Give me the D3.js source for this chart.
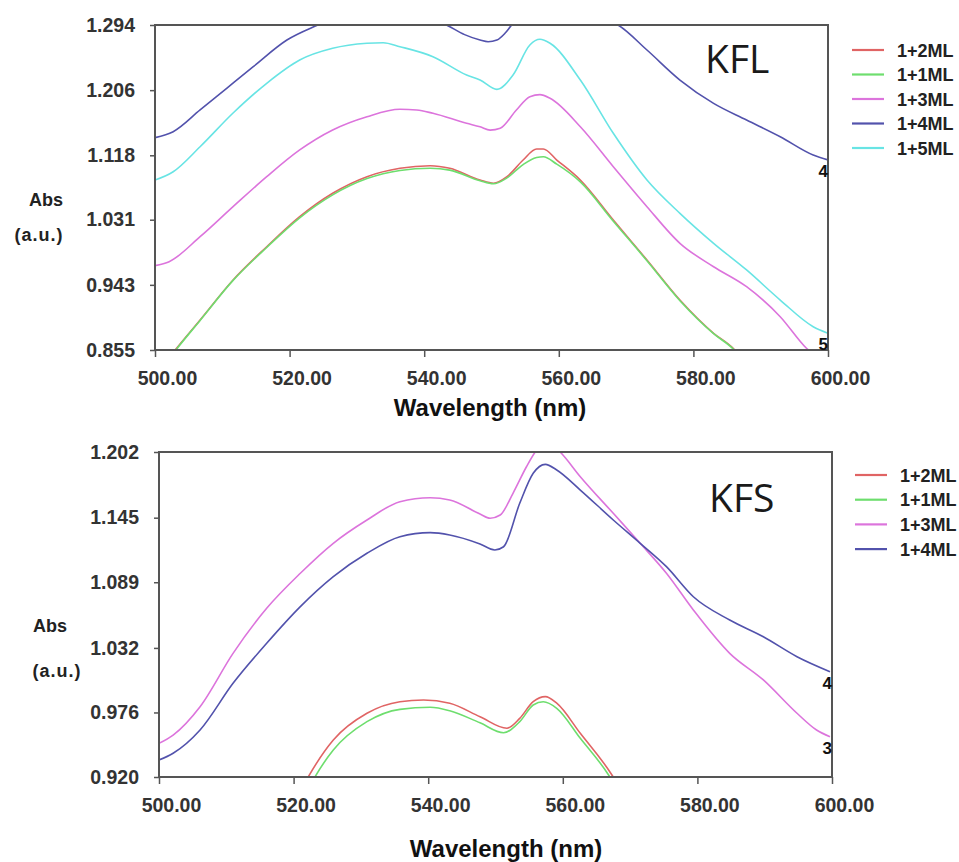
<!DOCTYPE html>
<html>
<head>
<meta charset="utf-8">
<script src="https://cdn.jsdelivr.net/npm/d3@7"></script>
<style>
  html, body { margin: 0; padding: 0; background: #fff; }
  svg { display: block; }
</style>
</head>
<body>
<svg id="chart" width="959" height="862"></svg>
<script>
// ---------------- DATA ----------------
const wavelengthTicks = [500, 520, 540, 560, 580, 600];
const kflTicks = [0.855, 0.943, 1.031, 1.118, 1.206, 1.294];
const kfsTicks = [0.920, 0.976, 1.032, 1.089, 1.145, 1.202];

const kflNames = ["1+2ML", "1+1ML", "1+3ML", "1+4ML", "1+5ML"];
const kfsNames = ["1+2ML", "1+1ML", "1+3ML", "1+4ML"];

// KFL panel: [wavelength nm, Abs]
const kfl_1p2ML = [[501.5,0.838],[503.0,0.855],[506.7,0.8955],[511.6,0.9496],[516.6,0.9945],[521.5,1.0351],[526.4,1.0667],[531.5,1.0891],[536.4,1.1004],[540.9,1.1039],[543.8,1.1004],[548.3,1.0846],[550.3,1.0802],[552.3,1.0891],[554.7,1.1116],[556.7,1.1265],[557.7,1.1265],[559.7,1.1116],[563.2,1.0846],[568.1,1.0306],[573.1,0.9766],[578.0,0.9225],[583.0,0.8776],[585.9,0.8573],[587.5,0.840]];
const kfl_1p1ML = [[501.5,0.836],[503.1,0.855],[506.7,0.895],[511.6,0.949],[516.6,0.9935],[521.5,1.0335],[526.4,1.0645],[531.5,1.0865],[536.4,1.0975],[540.9,1.1005],[543.8,1.0980],[548.3,1.0835],[550.3,1.0795],[552.3,1.0875],[554.7,1.1055],[556.7,1.1150],[557.7,1.1161],[559.7,1.1060],[563.2,1.0820],[568.1,1.0290],[573.1,0.9755],[578.0,0.9215],[583.0,0.8770],[585.9,0.8565],[587.5,0.840]];
const kfl_1p3ML = [[500,0.9689],[502.1,0.9743],[506.7,1.0080],[511.6,1.0486],[516.6,1.0891],[521.5,1.1252],[526.4,1.1522],[531.5,1.1701],[536.4,1.1801],[538.9,1.1792],[541.3,1.1747],[546.3,1.1612],[548.3,1.1565],[549.8,1.1520],[551.3,1.1545],[553.7,1.1792],[555.7,1.1972],[557.2,1.1999],[558.7,1.1950],[563.2,1.1566],[568.1,1.1026],[573.1,1.0486],[578.0,0.9991],[583.0,0.9675],[587.9,0.9405],[592.9,0.9000],[596.8,0.8573],[600,0.835]];
const kfl_1p4ML = [[500,1.1418],[502.7,1.1499],[506.7,1.1792],[510.65,1.2085],[514.6,1.2377],[519.6,1.2737],[524.2,1.2940],[527,1.305],[530,1.312],[534,1.316],[538,1.312],[541,1.303],[543.3,1.294],[546,1.281],[548.3,1.2737],[549.5,1.2714],[550.8,1.2737],[552.0,1.2828],[553.0,1.2940],[555,1.312],[557,1.322],[559,1.322],[562,1.315],[565.5,1.305],[568.8,1.294],[573.1,1.2602],[578.0,1.2197],[583.0,1.1882],[587.9,1.1657],[592.9,1.1431],[597.8,1.1184],[600,1.1117]];
const kfl_1p5ML = [[500,1.0846],[502.7,1.0958],[506.7,1.1296],[511.6,1.1751],[516.6,1.2153],[521.5,1.2467],[526.4,1.2625],[531.5,1.2693],[533.9,1.2701],[536.4,1.2647],[541.3,1.2512],[546.3,1.2265],[548.3,1.2197],[550.8,1.2071],[553.2,1.2265],[555.7,1.2670],[557.2,1.2747],[558.7,1.2693],[563.2,1.2197],[568.1,1.1477],[573.1,1.0846],[578.0,1.0396],[583.0,0.9991],[587.9,0.9631],[592.9,0.9225],[597.8,0.8865],[600,0.8776]];

// KFS panel: [wavelength nm, Abs]
const kfs_1p2ML = [[521.5,0.913],[522.2,0.9203],[525.9,0.9521],[530.9,0.9753],[535.8,0.9853],[539.3,0.9868],[543.2,0.9840],[547.7,0.9723],[551.7,0.9623],[553.6,0.9709],[555.6,0.9853],[557.4,0.9897],[559.1,0.9840],[562.6,0.9579],[567.3,0.9217],[568,0.915]];
const kfs_1p1ML = [[522.5,0.913],[523.2,0.9203],[525.9,0.9434],[530.9,0.9680],[535.8,0.9787],[540.3,0.9805],[543.2,0.9775],[547.7,0.9670],[551.2,0.9584],[553.6,0.9680],[555.6,0.9825],[557.1,0.9853],[559.1,0.9796],[562.6,0.9536],[566.8,0.9217],[567.5,0.915]];
const kfs_1p3ML = [[500,0.9492],[502.1,0.9564],[506.1,0.9810],[511.0,1.0273],[516.0,1.0664],[521.0,1.0968],[525.9,1.1228],[530.9,1.1430],[535.8,1.1589],[540.3,1.1623],[543.2,1.1604],[547.7,1.1482],[549.2,1.1445],[550.7,1.1473],[552.6,1.1662],[554.6,1.1892],[555.9,1.2020],[557.5,1.2120],[559.6,1.2020],[562.6,1.1806],[567.5,1.1488],[571.5,1.1228],[575.4,1.0968],[579.4,1.0649],[584.8,1.0273],[589.8,1.0042],[594.8,0.9753],[597.7,0.9608],[599.7,0.9550]];
const kfs_1p4ML = [[500,0.9348],[502.1,0.9406],[506.1,0.9608],[511.0,1.0013],[516.0,1.0360],[521.0,1.0678],[525.9,1.0938],[530.9,1.1141],[535.8,1.1285],[540.3,1.1320],[543.2,1.1300],[547.7,1.1222],[549.9,1.1170],[551.2,1.1198],[553.6,1.1575],[555.6,1.1835],[557.4,1.1913],[559.1,1.1864],[562.6,1.1690],[567.5,1.1430],[571.5,1.1228],[575.4,1.1025],[579.4,1.0764],[584.8,1.0562],[589.8,1.0417],[594.8,1.0244],[599.7,1.0114]];

// trace-number labels at the right edge
const kflEndTags = [["1+4ML","4"],["1+5ML","5"]];
const kfsEndTags = [["1+4ML","4"],["1+3ML","3"]];

// ---------------- STYLE ----------------
const colorByName = {
  "1+2ML": "#e06464",
  "1+1ML": "#6ede6e",
  "1+3ML": "#dc74dc",
  "1+4ML": "#5252ac",
  "1+5ML": "#68e4e4"
};
const tickFont = "'Liberation Sans', Arial, sans-serif";

const svg = d3.select("#chart");

function drawPanel(cfg) {
  const { left, top, width, height, yTicks, names, series, title, endTags, legendX, legendY, legendStep, titleCx, titleBase, absPos } = cfg;
  const g = svg.append("g").attr("transform", `translate(${left},${top})`);
  const x = d3.scaleLinear().domain([wavelengthTicks[0], wavelengthTicks[wavelengthTicks.length - 1]]).range([0, width]);
  const y = d3.scaleLinear().domain([yTicks[0], yTicks[yTicks.length - 1]]).range([height, 0]);

  const clipId = "clip-" + title;
  g.append("clipPath").attr("id", clipId).append("rect").attr("width", width).attr("height", height);

  const line = d3.line().x(d => x(d[0])).y(d => y(d[1])).curve(d3.curveMonotoneX);
  const plot = g.append("g").attr("clip-path", `url(#${clipId})`);
  names.forEach((n, i) => {
    plot.append("path").datum(series[i])
      .attr("d", line)
      .attr("fill", "none")
      .attr("stroke", colorByName[n])
      .attr("stroke-width", 1.6)
      .attr("stroke-linejoin", "round");
  });

  // frame
  g.append("rect").attr("width", width).attr("height", height)
    .attr("fill", "none").attr("stroke", "#555").attr("stroke-width", 2);

  // axes
  const xAxis = g.append("g").attr("transform", `translate(0,${height})`)
    .call(d3.axisBottom(x).tickValues(wavelengthTicks).tickFormat(d3.format(".2f")).tickSize(7).tickSizeOuter(0));
  xAxis.select(".domain").remove();
  xAxis.selectAll(".tick line").attr("stroke", "#555").attr("stroke-width", 1.5);
  xAxis.selectAll(".tick text")
    .attr("y", 35).attr("dy", null).attr("x", 12)
    .attr("fill", "#333").style("font-family", tickFont).style("font-weight", "bold").style("font-size", "19.5px");

  const yAxis = g.append("g")
    .call(d3.axisLeft(y).tickValues(yTicks).tickFormat(d3.format(".3f")).tickSize(5).tickPadding(15).tickSizeOuter(0));
  yAxis.select(".domain").remove();
  yAxis.selectAll(".tick line").attr("stroke", "#555").attr("stroke-width", 1.5);
  yAxis.selectAll(".tick text")
    .attr("fill", "#333").style("font-family", tickFont).style("font-weight", "bold").style("font-size", "19.5px");

  // end tags
  endTags.forEach(([n, tag]) => {
    const s = series[names.indexOf(n)];
    const last = s[s.length - 1];
    const ty = Math.min(y(last[1]) + 17, height + 2);
    g.append("text").attr("x", width).attr("y", ty)
      .attr("text-anchor", "end")
      .style("font-family", tickFont).style("font-weight", "bold").style("font-size", "17px")
      .attr("fill", "#111").text(tag);
  });

  // panel title (KFL / KFS)
  g.append("text").attr("x", width - 123).attr("y", cfg.nameBase)
    .style("font-family", "'Open Sans', 'Noto Sans', sans-serif").style("font-size", "39px")
    .attr("fill", "#1a1a1a").text(title);

  // axis titles
  svg.append("text").attr("x", titleCx).attr("y", titleBase).attr("text-anchor", "middle")
    .style("font-family", tickFont).style("font-weight", "bold").style("font-size", "24px")
    .attr("fill", "#111").text("Wavelength (nm)");
  svg.append("text").attr("x", absPos[0]).attr("y", absPos[1]).attr("text-anchor", "middle")
    .style("font-family", tickFont).style("font-weight", "bold").style("font-size", "18px")
    .attr("fill", "#222").text("Abs");
  svg.append("text").attr("x", absPos[2]).attr("y", absPos[3]).attr("text-anchor", "middle")
    .style("font-family", tickFont).style("font-weight", "bold").style("font-size", "18px")
    .style("letter-spacing", "1px")
    .attr("fill", "#222").text("(a.u.)");

  // legend
  const lg = svg.append("g").attr("transform", `translate(${legendX},${legendY})`);
  names.forEach((n, i) => {
    const row = lg.append("g").attr("transform", `translate(0,${i * legendStep})`);
    row.append("line").attr("x1", 0).attr("x2", 32).attr("y1", 0).attr("y2", 0)
      .attr("stroke", colorByName[n]).attr("stroke-width", 2.2);
    row.append("text").attr("x", 45).attr("y", 6.5)
      .style("font-family", tickFont).style("font-weight", "bold").style("font-size", "18px")
      .attr("fill", "#222").text(n);
  });
}

drawPanel({
  left: 155, top: 25, width: 673, height: 325,
  yTicks: kflTicks, names: kflNames,
  series: [kfl_1p2ML, kfl_1p1ML, kfl_1p3ML, kfl_1p4ML, kfl_1p5ML],
  title: "KFL", nameBase: 48, endTags: kflEndTags,
  legendX: 852, legendY: 50, legendStep: 24.5,
  titleCx: 490, titleBase: 416, absPos: [46, 206, 39, 241]
});

drawPanel({
  left: 159, top: 452, width: 673, height: 325,
  yTicks: kfsTicks, names: kfsNames,
  series: [kfs_1p2ML, kfs_1p1ML, kfs_1p3ML, kfs_1p4ML],
  title: "KFS", nameBase: 60, endTags: kfsEndTags,
  legendX: 855, legendY: 475, legendStep: 24.7,
  titleCx: 506, titleBase: 857, absPos: [50, 632, 57, 677]
});
</script>
</body>
</html>
